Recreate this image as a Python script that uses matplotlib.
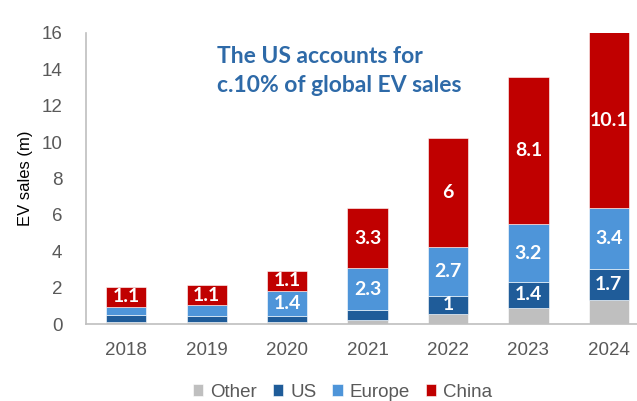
import numpy as np
import matplotlib as mpl
from matplotlib import pyplot as plt

years = ["2018", "2019", "2020", "2021", "2022", "2023", "2024"]
other = [0.1, 0.1, 0.1, 0.22, 0.55, 0.9, 1.3]
us = [0.4, 0.33, 0.33, 0.55, 1.0, 1.4, 1.7]
europe = [0.45, 0.6, 1.4, 2.3, 2.7, 3.2, 3.4]
china = [1.1, 1.1, 1.1, 3.3, 6.0, 8.1, 10.1]

# labels shown on the chart (blank = no label)
us_labels = ["", "", "", "", "1", "1.4", "1.7"]
europe_labels = ["", "", "1.4", "2.3", "2.7", "3.2", "3.4"]
china_labels = ["1.1", "1.1", "1.1", "3.3", "6", "8.1", "10.1"]

plt.rcParams["font.family"] = ["Liberation Sans", "DejaVu Sans"]
BOLD = ["Lato", "DejaVu Sans"]

fig = plt.figure(figsize=(6.37, 4.01), dpi=100)
ax = fig.add_axes([0.135, 0.192, 0.865, 0.726])

x = np.arange(len(years))
width = 0.5
colors = {"Other": "#BFBFBF", "US": "#1F5C99", "Europe": "#4E95D9", "China": "#C00000"}

bottom = np.zeros(len(years))
series = [("Other", other, None), ("US", us, us_labels),
          ("Europe", europe, europe_labels), ("China", china, china_labels)]
for name, vals, labels in series:
    vals = np.array(vals)
    ax.bar(x, vals, width, bottom=bottom, color=colors[name], label=name,
           edgecolor="white", linewidth=0.4)
    if labels is not None:
        for i, lab in enumerate(labels):
            if lab:
                top = min(bottom[i] + vals[i], 16)
                ymid = (bottom[i] + top) / 2
                ax.text(x[i], ymid, lab, ha="center", va="center", color="white",
                        fontsize=14, fontweight="bold", family=BOLD)
    bottom += vals

ax.set_ylim(0, 16)
ax.set_xlim(-0.5, 6.35)
ax.set_yticks(np.arange(0, 17, 2))
ax.set_xticks(x)
ax.set_xticklabels(years)
ax.tick_params(axis="both", length=0, labelsize=13.5, colors="#595959")
ax.tick_params(axis="x", pad=13)
ax.tick_params(axis="y", pad=17)
for side in ["top", "right"]:
    ax.spines[side].set_visible(False)
for side in ["left", "bottom"]:
    ax.spines[side].set_color("#BFBFBF")
    ax.spines[side].set_linewidth(1.2)
ax.set_ylabel("EV sales (m)", fontsize=12, color="black", labelpad=6)

ax.text(0.238, 0.955, "The US accounts for\nc.10% of global EV sales",
        transform=ax.transAxes, ha="left", va="top", fontsize=16.5,
        fontweight="bold", color="#2E6AA8", linespacing=1.45, family=BOLD)

fig.legend(loc="center", bbox_to_anchor=(0.538, 0.022), ncol=4, frameon=False,
           fontsize=13.5, handlelength=0.55, handleheight=0.55, handletextpad=0.37,
           columnspacing=0.85, labelcolor="#595959")

fig.savefig("out.png", dpi=100)
